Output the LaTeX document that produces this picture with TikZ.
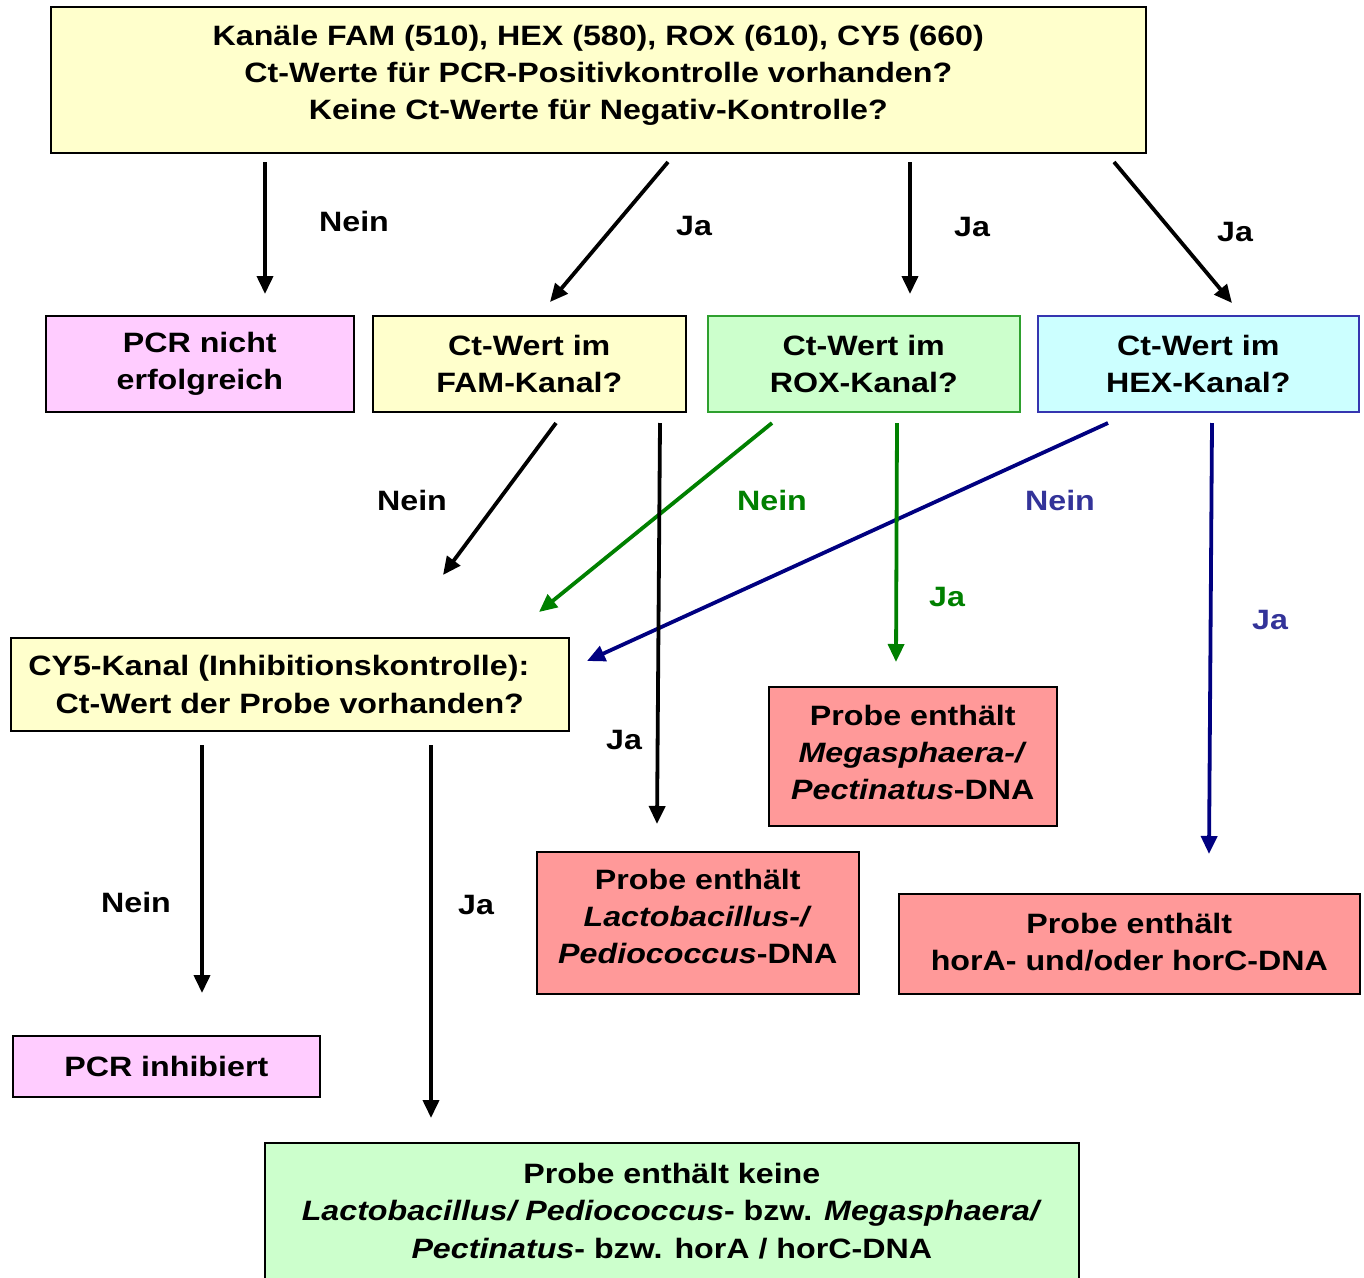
\documentclass[tikz,border=0pt]{standalone}
\usepackage{fontspec}
\setmainfont{Liberation Sans}[FakeStretch=1.15]
\usetikzlibrary{arrows.meta,calc}
\definecolor{ylw}{HTML}{FFFFCC}
\definecolor{pnk}{HTML}{FFCCFF}
\definecolor{grnfill}{HTML}{CCFFCC}
\definecolor{grnline}{HTML}{2EA02E}
\definecolor{cyanfill}{HTML}{CCFFFF}
\definecolor{blueline}{HTML}{3535B0}
\definecolor{salmon}{HTML}{FF9999}
\definecolor{arrgreen}{HTML}{008000}
\definecolor{arrblue}{HTML}{000080}
\definecolor{lblblue}{HTML}{333399}
\begin{document}
\begin{tikzpicture}[x=1pt,y=-1pt,
  box/.style={draw=black, line width=1.6pt, align=center,
    font=\bfseries\fontsize{28}{37.5}\selectfont, inner sep=0pt, anchor=north west},
  boxtext/.style={align=center, font=\bfseries\fontsize{28}{37}\selectfont, inner sep=0pt},
  arr/.style={line width=3.8pt, -{Triangle[length=18pt,width=16pt]}},
  lbl/.style={font=\bfseries\fontsize{28}{34}\selectfont, inner sep=0pt}]
\useasboundingbox (0,0) rectangle (1364,1277);

% boxes
\node[box, fill=ylw, minimum width=1095pt, minimum height=146pt] (top) at (50,6) {};
\node[boxtext] (toptext) at ($(top.center)+(0,-4)$)
  {Kanäle FAM (510), HEX (580), ROX (610), CY5 (660)\\Ct-Werte für PCR-Positivkontrolle vorhanden?\\Keine Ct-Werte für Negativ-Kontrolle?};
\node[box, fill=pnk, minimum width=308pt, minimum height=96pt] (nicht) at (45,315)
  {PCR nicht\\erfolgreich};
\node[box, fill=ylw, minimum width=313pt, minimum height=96pt] (fam) at (372,315)
  {Ct-Wert im\\FAM-Kanal?};
\node[box, fill=grnfill, draw=grnline, minimum width=312pt, minimum height=96pt] (rox) at (707,315)
  {Ct-Wert im\\ROX-Kanal?};
\node[box, fill=cyanfill, draw=blueline, minimum width=321pt, minimum height=96pt] (hex) at (1037,315)
  {Ct-Wert im\\HEX-Kanal?};
\node[box, fill=ylw, minimum width=558pt, minimum height=93pt] (cy5) at (10,637)
  {CY5-Kanal (Inhibitionskontrolle):\hspace*{22pt}\\Ct-Wert der Probe vorhanden?};
\node[box, fill=salmon, minimum width=288pt, minimum height=139pt] (mega) at (768,686) {};
\node[boxtext] (megatext) at ($(mega.center)+(0,-4)$)
  {Probe enthält\\\textit{Megasphaera-/}\\\textit{Pectinatus}-DNA};
\node[box, fill=salmon, minimum width=322pt, minimum height=142pt] (lacto) at (536,851) {};
\node[boxtext] (lactotext) at ($(lacto.center)+(0,-6)$)
  {Probe enthält\\\textit{Lactobacillus-/}\\\textit{Pediococcus}-DNA};
\node[box, fill=salmon, minimum width=461pt, minimum height=100pt] (hora) at (898,893) {};
\node[boxtext] (horatext) at ($(hora.center)+(0,-2)$)
  {Probe enthält\\horA- und/oder horC-DNA};
\node[box, fill=pnk, minimum width=307pt, minimum height=61pt] (inhib) at (12,1035)
  {PCR inhibiert};
\node[box, fill=grnfill, minimum width=814pt, minimum height=136pt] (keine) at (264,1142)
  {Probe enthält keine\\\textit{Lactobacillus/ Pediococcus}- bzw. \textit{Megasphaera/}\\\textit{Pectinatus}- bzw. horA / horC-DNA};

% connector end points
\coordinate (a1s) at (265,162); \coordinate (a1e) at (265,294);
\coordinate (a2s) at (668,162); \coordinate (a2e) at (550,302);
\coordinate (a3s) at (910,162); \coordinate (a3e) at (910,294);
\coordinate (a4s) at (1114,162); \coordinate (a4e) at (1232,303);
\coordinate (b1s) at (556,423); \coordinate (b1e) at (443,575);
\coordinate (b2s) at (660,423); \coordinate (b2e) at (657,824);
\coordinate (c1s) at (772,423); \coordinate (c1e) at (539,612);
\coordinate (c2s) at (897,423); \coordinate (c2e) at (896,662);
\coordinate (d1s) at (1108,423); \coordinate (d1e) at (587,661);
\coordinate (d2s) at (1212,423); \coordinate (d2e) at (1209,854);
\coordinate (e1s) at (202,745); \coordinate (e1e) at (202,993);
\coordinate (e2s) at (431,745); \coordinate (e2e) at (431,1118);

% connectors
\draw[arr] (a1s) -- (a1e);
\draw[arr] (a2s) -- (a2e);
\draw[arr] (a3s) -- (a3e);
\draw[arr] (a4s) -- (a4e);
\draw[arr] (b1s) -- (b1e);
\draw[arr, draw=arrgreen, fill=arrgreen] (c1s) -- (c1e);
\draw[arr, draw=arrblue, fill=arrblue] (d1s) -- (d1e);
\draw[arr] (b2s) -- (b2e);
\draw[arr, draw=arrgreen, fill=arrgreen] (c2s) -- (c2e);
\draw[arr, draw=arrblue, fill=arrblue] (d2s) -- (d2e);
\draw[arr] (e1s) -- (e1e);
\draw[arr] (e2s) -- (e2e);

% labels
\node[lbl] (l1) at (354,221) {Nein};
\node[lbl] (l2) at (694,226) {Ja};
\node[lbl] (l3) at (972,227) {Ja};
\node[lbl] (l4) at (1235,232) {Ja};
\node[lbl] (l5) at (412,500) {Nein};
\node[lbl, text=arrgreen] (l6) at (772,500) {Nein};
\node[lbl, text=lblblue] (l7) at (1060,500) {Nein};
\node[lbl, text=arrgreen] (l8) at (947,597) {Ja};
\node[lbl, text=lblblue] (l9) at (1270,620) {Ja};
\node[lbl] (l10) at (624,740) {Ja};
\node[lbl] (l11) at (136,902) {Nein};
\node[lbl] (l12) at (476,905) {Ja};
\end{tikzpicture}
\end{document}
